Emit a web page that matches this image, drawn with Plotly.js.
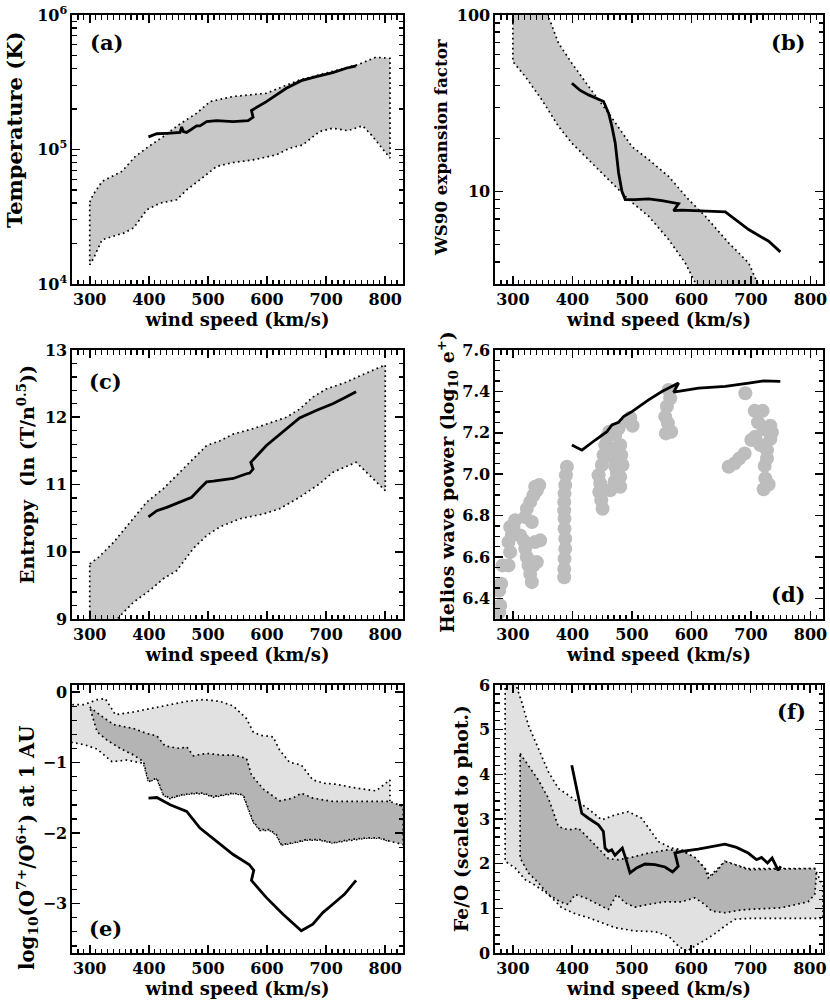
<!DOCTYPE html>
<html><head><meta charset="utf-8">
<script src="https://cdn.plot.ly/plotly-3.0.1.min.js"></script>
<style>body{margin:0;padding:0;background:#fff}#c{width:830px;height:1005px}</style>
</head><body><div id="c"></div>
<script>
// ---------- panel (a) temperature ----------
const A_upX = [300,305.6,320.8,337.6,354.5,377,399.4,424.7,450,480.9,503.4,542.7,598.9,655.1,753,784,808];
const A_upY = [4.06e4,4.60e4,5.78e4,6.31e4,6.87e4,8.87e4,1.05e5,1.25e5,1.52e5,1.86e5,2.27e5,2.48e5,2.62e5,3.29e5,4.26e5,4.85e5,4.76e5];
const A_loX = [300,306.7,320.8,340.4,357.3,374.2,396.6,419.1,447.2,464,486.5,514.6,542.7,576.4,615.7,637.6,660.1,688.8,711.2,736.5,761.8,778.7,808];
const A_loY = [1.39e4,1.56e4,2.13e4,2.26e4,2.39e4,2.61e4,3.56e4,3.99e4,4.23e4,5.01e4,5.96e4,7.48e4,8.0e4,8.37e4,9.12e4,1.02e5,1.08e5,1.36e5,1.44e5,1.38e5,1.50e5,1.25e5,8.63e4];
const A_lnX = [399.4,413.5,430.3,452.8,455.6,458.4,464,472.5,480.9,486.5,497.8,514.6,542.7,567.9,576.4,573.6,598.9,632.6,657.9,683.1,711.2,733.7,750.6];
const A_lnY = [1.24e5,1.31e5,1.32e5,1.34e5,1.47e5,1.36e5,1.34e5,1.42e5,1.50e5,1.50e5,1.61e5,1.64e5,1.61e5,1.64e5,1.74e5,1.95e5,2.27e5,2.85e5,3.25e5,3.48e5,3.73e5,4.02e5,4.18e5];

// ---------- panel (b) WS90 expansion factor ----------
const B_upX = [300,358.8,376.7,399.2,427.2,460.8,500,528,561.6,595.2,623.2,662.5,696.1,710.1,722];
const B_upY = [150,100,69.2,53.3,39.4,27.8,18.0,15.2,12.2,9.02,7.26,5.13,3.95,3.05,2.5];
const B_loX = [300,320.7,348.7,376.7,399.2,432.8,466.4,494.4,528,561.6,589.6,606.4,615];
const B_loY = [54.5,44.9,33.1,23.4,18.8,14.5,11.2,9.02,7.26,5.36,3.95,3.05,2.6];
const B_lnX = [399.2,413.2,427.2,452.4,460.8,466.4,472,477.6,483.2,488.8,505.6,528,550.4,570,578.4,570,584,656.9,696.1,729.7,749.3];
const B_lnY = [41.1,37.4,35.3,32.4,27.8,23.4,18.8,12.8,10.05,9.02,9.0,9.1,8.9,8.6,8.55,7.8,7.85,7.68,6.10,5.24,4.56];

// ---------- panel (c) entropy ----------
const C_upX = [300,315.2,340.4,368.5,396.6,424.7,452.8,475.3,497.8,520.2,542.7,576.4,610.1,632.6,655.1,677.5,700,733.7,750.6,800];
const C_upY = [9.82,9.92,10.14,10.44,10.74,10.94,11.18,11.38,11.58,11.65,11.75,11.83,11.93,12.0,12.12,12.30,12.42,12.52,12.59,12.78];
const C_loX = [300,330,351.7,374.2,402.2,424.7,447.2,475.3,497.8,520.2,554,593.3,621.4,655.1,688.8,711.2,750.6,800];
const C_loY = [8.6,8.82,9.05,9.25,9.43,9.60,9.72,10.05,10.24,10.37,10.49,10.56,10.64,10.81,11.01,11.18,11.33,10.91];
const C_lnX = [399.4,413.5,430.3,452.8,472.5,486.5,497.8,509,542.7,565.2,570.6,576.4,572.5,598.9,627,655.1,683.1,711.2,733.7,750.6];
const C_lnY = [10.52,10.61,10.66,10.74,10.81,10.94,11.04,11.05,11.09,11.16,11.17,11.23,11.33,11.58,11.78,11.99,12.10,12.20,12.30,12.38];

// ---------- panel (d) Helios wave power ----------
const D_ptX = [277,278.7,277,280.4,282.6,292.7,295.5,292.7,298.3,301.1,303.9,295.5,
  312.3,317.9,320.7,323.5,326.3,329.1,331.9,334.7,337.5,345.9,340.3,320.7,323.5,329.1,334.7,340.3,344.3,337.5,331.9,
  390.8,389.1,388,386.8,386.3,386.3,386.8,386.8,388,388,386.8,386.3,386.3,
  444,446.8,445.1,448.5,450.7,449.6,452.4,455.2,458,461.9,466.4,469.2,472,474.8,470.9,463.6,472,477.6,480.4,482.1,484.3,480.4,480.4,494.4,501.1,497.2,
  561.6,564.4,558.8,556,560.5,557.1,566.1,
  662.5,672.5,680.4,689.4,690.5,
  706.2,719.6,711.8,721.3,732.5,735.3,732.5,707.3,700.6,715.7,726.9,726.9,723,724.1,721.3,729.7];
const D_ptY = [6.332,6.365,6.437,6.470,6.559,6.559,6.623,6.672,6.704,6.745,6.777,6.745,
  6.704,6.680,6.639,6.599,6.559,6.518,6.478,6.559,6.672,6.680,6.575,6.793,6.833,6.866,6.898,6.922,6.947,6.939,6.769,
  7.036,6.995,6.947,6.906,6.866,6.825,6.785,6.736,6.688,6.639,6.591,6.542,6.502,
  6.995,6.955,6.914,6.874,6.833,7.044,7.092,7.141,7.181,7.205,7.124,7.076,7.036,7.003,6.963,6.922,7.189,7.222,7.141,7.092,7.044,6.987,6.939,7.257,7.234,7.273,
  7.407,7.367,7.327,7.278,7.246,7.197,7.205,
  7.036,7.052,7.076,7.100,7.391,
  7.306,7.306,7.251,7.218,7.234,7.202,7.170,7.181,7.165,7.141,7.116,7.076,7.040,6.979,6.927,6.950];
const D_lnX = [399.2,416,438.4,458,466.4,477.6,486,500,528,550.4,578.4,570,612,656.9,696.1,721.3,749.3];
const D_lnY = [7.141,7.116,7.165,7.205,7.238,7.251,7.278,7.302,7.359,7.399,7.440,7.396,7.416,7.424,7.440,7.451,7.448];

// ---------- panel (e) log10(O7+/O6+) ----------
const E_oupX = [262,270.8,289.9,312.4,326.4,343.3,374.2,402.2,430.3,464,492.1,520.2,542.7,565.2,576.4,587.6,610.1,621.3,638.2,657.9,677.5,697.2,716.9,744.9,784.3,807.9];
const E_oupY = [-0.18,-0.179,-0.179,-0.108,-0.094,-0.320,-0.282,-0.235,-0.188,-0.132,-0.108,-0.132,-0.197,-0.376,-0.564,-0.611,-0.635,-0.823,-0.997,-1.034,-1.246,-1.293,-1.307,-1.354,-1.401,-1.246];
const E_oloX = [262,270.8,292.7,312.4,337.6,362.9,391,399.4,413.5,424.7,436,455.6,475.3,492.1,509,542.7,559.6,576.4,587.6,604.5,615.7,624.2,643.8,666.3,688.8,711.2,739.3,767.4,789.9,807.9];
const E_oloY = [-0.715,-0.715,-0.752,-0.809,-0.987,-0.964,-1.011,-1.27,-1.23,-1.46,-1.51,-1.46,-1.44,-1.44,-1.49,-1.44,-1.46,-1.84,-1.96,-1.96,-2.03,-2.17,-2.14,-2.10,-2.10,-2.14,-2.10,-2.07,-2.07,-2.12];
const E_iupX = [300,318,340.4,374.2,396.6,413.5,427.5,452.8,464,475.3,497.8,523,542.7,565.2,573.6,593.3,621.3,643.8,657.9,677.5,711.2,767.4,807.9,830.3];
const E_iupY = [-0.212,-0.329,-0.461,-0.517,-0.588,-0.621,-0.766,-0.799,-0.776,-0.903,-0.870,-0.893,-0.893,-0.940,-1.175,-1.373,-1.542,-1.504,-1.434,-1.504,-1.551,-1.551,-1.551,-1.622];
const E_iloX = [300,312.4,329.2,351.7,374.2,391,399.4,413.5,424.7,436,455.6,475.3,492.1,509,542.7,559.6,576.4,587.6,604.5,615.7,624.2,643.8,666.3,688.8,711.2,739.3,767.4,789.9,807.9,830.3];
const E_iloY = [-0.212,-0.564,-0.682,-0.799,-0.893,-0.987,-1.269,-1.222,-1.457,-1.504,-1.457,-1.434,-1.434,-1.481,-1.434,-1.457,-1.834,-1.951,-1.951,-2.022,-2.163,-2.139,-2.092,-2.092,-2.139,-2.092,-2.069,-2.069,-2.116,-2.163];
const E_lnX = [399.4,413.5,436,464,486.5,514.6,542.7,569.7,577.5,573.6,598.9,627,657.9,677.5,694.4,711.2,730.9,750.6];
const E_lnY = [-1.504,-1.495,-1.598,-1.693,-1.928,-2.116,-2.304,-2.445,-2.529,-2.670,-2.915,-3.150,-3.385,-3.291,-3.127,-3.009,-2.868,-2.670];

// ---------- panel (f) Fe/O ----------
const F_oupX = [287.1,303.9,315.1,326.3,343.1,359.9,376.7,393.6,410.4,427.2,449.6,472,494.4,516.8,530.8,544.8,567.2,584,606.4,623.2,631.7,640.1,656.9,673.7,696.1,752.1,808.1,822.1];
const F_oupY = [6.06,6.06,5.615,5.096,4.576,4.056,3.685,3.537,3.388,3.225,2.980,3.091,3.166,3.017,2.757,2.497,2.349,2.312,2.126,1.903,1.718,1.829,2.052,1.978,1.889,1.889,1.889,1.495];
const F_oloX = [287.1,303.9,320.7,337.5,359.9,382.4,404.8,427.2,449.6,472,505.6,539.2,561.6,578.4,592.4,606.4,623.2,640.1,656.9,673.7,696.1,752.1,822.1];
const F_oloY = [2.052,1.903,1.644,1.517,1.310,1.013,0.879,0.790,0.679,0.567,0.493,0.478,0.382,0.159,0.033,0.159,0.285,0.434,0.604,0.753,0.775,0.775,0.775];
const F_iupX = [312.3,326.3,343.1,359.9,376.7,393.6,410.4,427.2,444,460.8,477.6,500,528,561.6,584,606.4,623.2,628.8,642.9,656.9,673.7,696.1,752.1,808.1];
const F_iupY = [4.465,4.205,3.871,3.463,2.831,2.757,2.794,2.572,2.334,2.111,2.089,2.141,2.238,2.312,2.290,2.141,1.889,1.681,1.829,2.052,1.978,1.866,1.881,1.889];
const F_iloX = [312.3,326.3,343.1,359.9,379.6,393.6,404.8,421.6,441.2,460.8,474.8,488.8,505.6,528,556,584,606.4,623.2,634.5,656.9,679.3,696.1,752.1,796.9,808.1,810.9];
const F_iloY = [2.126,1.792,1.569,1.310,1.146,1.087,1.310,1.235,1.102,0.976,1.310,1.124,1.027,1.087,1.146,1.146,1.235,1.087,0.938,0.901,0.953,0.976,1.013,1.146,1.310,1.755];
const F_lnX = [399.2,416,427.2,444,452.4,455.2,460.8,466.4,472,478.7,484.3,491.6,497.2,508.4,522.4,539.2,556,568.9,578.4,572.8,584,612,656.9,676.5,696.1,710.1,718.5,728.6,736.4,746.5,751];
const F_lnY = [4.205,3.128,3.017,2.869,2.72,2.349,2.275,2.312,2.186,2.275,2.349,2.052,1.792,1.903,1.993,1.978,1.926,1.814,1.941,2.238,2.275,2.327,2.438,2.364,2.238,2.089,2.141,2.015,2.126,1.852,1.941];

const xTitle = 'wind speed (km/s)';
const yTitles = ['Temperature (K)', 'WS90 expansion factor', 'Entropy  (ln (T/n<sup>0.5</sup>))',
  'Helios wave power (log<sub>10</sub> e<sup>+</sup>)', 'log<sub>10</sub>(O<sup>7+</sup>/O<sup>6+</sup>) at 1 AU', 'Fe/O (scaled to phot.)'];
const panelLabels = ['(a)','(b)','(c)','(d)','(e)','(f)'];

// ---------- styling ----------
const FONT = 'DejaVu Serif';
const BAND = '#c8c8c8', LIGHT = '#e1e1e1', DARK = '#b4b4b4', DOT = '#bdbdbd';

function poly(ux, uy, lx, ly) {
  const x = ux.concat(lx.slice().reverse()); const y = uy.concat(ly.slice().reverse());
  x.push(ux[0]); y.push(uy[0]); return {x, y};
}
function band(ux, uy, lx, ly, col, xa, ya) {
  const p = poly(ux, uy, lx, ly);
  return {x: p.x, y: p.y, xaxis: xa, yaxis: ya, mode: 'lines', fill: 'toself', fillcolor: col,
    line: {color: 'black', width: 1.7, dash: '1.7px,3.3px'}};
}
function line(x, y, xa, ya) {
  return {x, y, xaxis: xa, yaxis: ya, mode: 'lines', line: {color: 'black', width: 2.8}};
}

const traces = [
  band(A_upX, A_upY, A_loX, A_loY, BAND, 'x', 'y'), line(A_lnX, A_lnY, 'x', 'y'),
  band(B_upX, B_upY, B_loX, B_loY, BAND, 'x2', 'y2'), line(B_lnX, B_lnY, 'x2', 'y2'),
  band(C_upX, C_upY, C_loX, C_loY, BAND, 'x3', 'y3'), line(C_lnX, C_lnY, 'x3', 'y3'),
  {x: D_ptX, y: D_ptY, xaxis: 'x4', yaxis: 'y4', mode: 'markers', marker: {size: 14, color: DOT}},
  line(D_lnX, D_lnY, 'x4', 'y4'),
  band(E_oupX, E_oupY, E_oloX, E_oloY, LIGHT, 'x5', 'y5'),
  band(E_iupX, E_iupY, E_iloX, E_iloY, DARK, 'x5', 'y5'),
  line(E_lnX, E_lnY, 'x5', 'y5'),
  band(F_oupX, F_oupY, F_oloX, F_oloY, LIGHT, 'x6', 'y6'),
  band(F_iupX, F_iupY, F_iloX, F_iloY, DARK, 'x6', 'y6'),
  line(F_lnX, F_lnY, 'x6', 'y6')
];

const W = 830, H = 1005;
const colX = [[72, 403], [495, 823]];
const rowY = [[15, 284], [350, 619], [685, 953]];
function dx(c) { return [colX[c][0] / W, colX[c][1] / W]; }
function dy(r) { return [1 - rowY[r][1] / H, 1 - rowY[r][0] / H]; }

const TICKFONT = {family: FONT, size: 16, color: 'black', weight: 'bold'};
function base(extra) {
  return Object.assign({
    showline: true, mirror: 'ticks', linecolor: 'black', linewidth: 1.6,
    ticks: 'inside', ticklen: 8, tickwidth: 1.6, tickcolor: 'black',
    showgrid: false, zeroline: false, automargin: false, tickfont: TICKFONT
  }, extra);
}
const minLin = (d) => ({ticks: 'inside', ticklen: 4.5, tickwidth: 1.3, tickcolor: 'black', dtick: d, showgrid: false});
const minLog = {ticks: 'inside', ticklen: 4.5, tickwidth: 1.3, tickcolor: 'black', dtick: 'D1', showgrid: false};
function xax(c, anchor, range) {
  return base({domain: dx(c), anchor, range, tick0: 0, dtick: 100, minor: minLin(10),
    title: {text: xTitle, font: {family: FONT, size: 18, color: 'black', weight: 'bold'}, standoff: 4}});
}
function yax(r, anchor, extra) {
  return base(Object.assign({domain: dy(r), anchor}, extra));
}

// y-axis titles placed by centre pixel (x, y) with their own sizes
const yTitlePos = [[15, 130, 21], [441, 148, 16.7], [26, 475, 19], [447, 482, 18.9], [27, 848, 19.7], [461, 819, 18.8]];
const yTitleAnn = yTitles.map((t, i) => ({
  xref: 'paper', yref: 'paper', x: yTitlePos[i][0] / W, y: 1 - yTitlePos[i][1] / H,
  xanchor: 'center', yanchor: 'middle', textangle: -90, text: t, showarrow: false,
  font: {family: FONT, size: yTitlePos[i][2], color: 'black', weight: 'bold'}
}));

const layout = {
  width: W, height: H, margin: {l: 0, r: 0, t: 0, b: 0}, showlegend: false,
  font: {family: FONT, color: 'black'},
  xaxis: xax(0, 'y', [270, 830]),
  yaxis: yax(0, 'x', {type: 'log', range: [4, 6], tickvals: [1e4, 1e5, 1e6],
    ticktext: ['10<sup>4</sup>', '10<sup>5</sup>', '10<sup>6</sup>'], minor: minLog}),
  xaxis2: xax(1, 'y2', [270, 821]),
  yaxis2: yax(0, 'x2', {type: 'log', range: [Math.log10(3), 2], tickvals: [10, 100],
    ticktext: ['10', '100'], minor: minLog}),
  xaxis3: xax(0, 'y3', [270, 830]),
  yaxis3: yax(1, 'x3', {range: [9, 13], dtick: 1, tick0: 0, minor: minLin(0.2)}),
  xaxis4: xax(1, 'y4', [270, 821]),
  yaxis4: yax(1, 'x4', {range: [6.3, 7.6], dtick: 0.2, tick0: 0, tickformat: '.1f', minor: minLin(0.05)}),
  xaxis5: xax(0, 'y5', [270, 830]),
  yaxis5: yax(2, 'x5', {range: [-3.7, 0.1], dtick: 1, tick0: 0, minor: minLin(0.2)}),
  xaxis6: xax(1, 'y6', [270, 822]),
  yaxis6: yax(2, 'x6', {range: [0, 6], dtick: 1, tick0: 0, minor: minLin(0.2)}),
  annotations: [
    {xref: 'x domain', yref: 'y domain', x: 0.048, y: 0.896, xanchor: 'left', text: panelLabels[0]},
    {xref: 'x2 domain', yref: 'y2 domain', x: 0.954, y: 0.896, xanchor: 'right', text: panelLabels[1]},
    {xref: 'x3 domain', yref: 'y3 domain', x: 0.046, y: 0.882, xanchor: 'left', text: panelLabels[2]},
    {xref: 'x4 domain', yref: 'y4 domain', x: 0.954, y: 0.092, xanchor: 'right', text: panelLabels[3]},
    {xref: 'x5 domain', yref: 'y5 domain', x: 0.046, y: 0.092, xanchor: 'left', text: panelLabels[4]},
    {xref: 'x6 domain', yref: 'y6 domain', x: 0.954, y: 0.90, xanchor: 'right', text: panelLabels[5]}
  ].map(a => Object.assign(a, {showarrow: false, yanchor: 'middle', font: {family: FONT, size: 21, color: 'black', weight: 'bold'}}))
   .concat(yTitleAnn)
};

Plotly.newPlot('c', traces, layout, {staticPlot: true});
</script></body></html>
